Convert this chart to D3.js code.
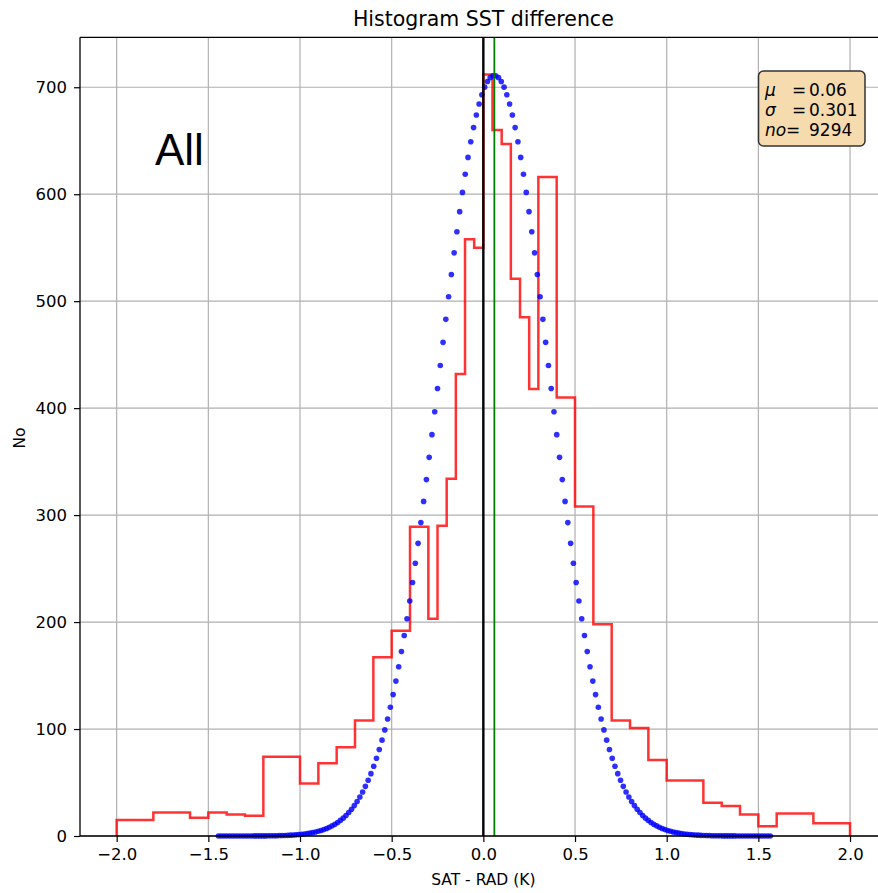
<!DOCTYPE html>
<html>
<head>
<meta charset="utf-8">
<script src="https://cdn.jsdelivr.net/npm/d3@7"></script>
<style>
  html, body { margin: 0; padding: 0; background: #fff; overflow: hidden; }
  svg { display: block; }
  text { font-family: "DejaVu Sans", sans-serif; fill: #000; }
</style>
</head>
<body>
<div id="chart"></div>
<script>
// ---------------- DATA ----------------
const binEdges = [-2.0,-1.8,-1.6,-1.5,-1.4,-1.3,-1.2,-1.0,-0.9,-0.8,-0.7,-0.6,-0.5,-0.4,-0.3,-0.25,-0.2,-0.15,-0.1,-0.05,0,
                  0.05,0.1,0.15,0.2,0.25,0.3,0.4,0.5,0.6,0.7,0.8,0.9,1.0,1.2,1.3,1.4,1.5,1.6,1.8,2.0];
const binCounts = [15,22,17,22,20,19,74,49,68,83,108,167,192,289,203,290,334,432,558,550,
                   712,660,647,521,485,418,616,410,308,198,108,101,71,52,31,28,20,9,21,12];

// fitted normal curve dots: offsets from the mean and heights (symmetric pairs)
const MU = 0.06, SIGMA = 0.301, NO = 9294;
const fitOffsets = [0.0076,0.0227,0.0378,0.0529,0.0681,0.0832,0.0983,0.1134,0.1286,0.1437,
  0.1588,0.1740,0.1891,0.2042,0.2193,0.2345,0.2496,0.2647,0.2798,0.2950,
  0.3101,0.3252,0.3403,0.3555,0.3706,0.3857,0.4008,0.4160,0.4311,0.4462,
  0.4613,0.4765,0.4916,0.5067,0.5218,0.5370,0.5521,0.5672,0.5824,0.5975,
  0.6126,0.6277,0.6429,0.6580,0.6731,0.6882,0.7034,0.7185,0.7336,0.7487,
  0.7639,0.7790,0.7941,0.8092,0.8244,0.8395,0.8546,0.8697,0.8849,0.9000,
  0.9151,0.9302,0.9454,0.9605,0.9756,0.9907,1.0059,1.0210,1.0361,1.0512,
  1.0664,1.0815,1.0966,1.1118,1.1269,1.1420,1.1571,1.1723,1.1874,1.2025,
  1.2176,1.2328,1.2479,1.2630,1.2781,1.2933,1.3084,1.3235,1.3386,1.3538,
  1.3689,1.3840,1.3991,1.4143,1.4294,1.4445,1.4596,1.4748,1.4899,1.5050];
const fitHeights = [710.8,709.0,705.4,700.1,693.0,684.4,674.1,662.3,649.0,634.4,
  618.6,601.7,583.7,564.9,545.2,525.0,504.2,483.0,461.5,439.9,
  418.3,396.6,375.2,354.0,333.2,312.8,293.0,273.6,255.0,237.0,
  219.7,203.1,187.4,172.4,158.2,144.8,132.2,120.4,109.4,99.2,
  89.6,80.8,72.7,65.2,58.3,52.1,46.4,41.2,36.5,32.2,
  28.4,25.0,21.9,19.2,16.7,14.6,12.6,10.9,9.5,8.1,
  7.0,6.0,5.1,4.4,3.7,3.2,2.7,2.3,1.9,1.6,
  1.3,1.1,0.9,0.8,0.6,0.5,0.4,0.4,0.3,0.2,
  0.2,0.2,0.1,0.1,0.1,0.1,0.1,0,0,0,
  0,0,0,0,0,0,0,0,0,0];

const xTicks = [-2.0,-1.5,-1.0,-0.5,0.0,0.5,1.0,1.5,2.0];
const yTicks = [0,100,200,300,400,500,600,700];
const xDomain = [-2.2, 2.2];
const yDomain = [0, 746.7];
const title = "Histogram SST difference";
const xLabel = "SAT - RAD (K)";
const yLabel = "No";
const panelLabel = "All";

// ---------------- LAYOUT ----------------
const W = 878, H = 893;
const m = {left: 80, top: 37.3, bottom: 836};
const plotRight = 886.7;

const svg = d3.select("#chart").append("svg").attr("width", W).attr("height", H);

const x = d3.scaleLinear().domain(xDomain).range([m.left, plotRight]);
const y = d3.scaleLinear().domain(yDomain).range([m.bottom, m.top]);

// grid
const grid = svg.append("g");
grid.selectAll("line.gx").data(xTicks).join("line")
  .attr("x1", d => x(d)).attr("x2", d => x(d))
  .attr("y1", m.top).attr("y2", m.bottom)
  .attr("stroke", "#b0b0b0").attr("stroke-width", 1.2);
grid.selectAll("line.gy").data(yTicks).join("line")
  .attr("x1", m.left).attr("x2", W)
  .attr("y1", d => y(d)).attr("y2", d => y(d))
  .attr("stroke", "#b0b0b0").attr("stroke-width", 1.2);

// histogram step
const stepPts = [[binEdges[0], 0]];
binCounts.forEach((c, i) => { stepPts.push([binEdges[i], c]); stepPts.push([binEdges[i+1], c]); });
stepPts.push([binEdges[binEdges.length-1], 0]);
svg.append("path")
  .attr("d", d3.line().x(d => x(d[0])).y(d => y(d[1]))(stepPts))
  .attr("fill", "none").attr("stroke", "#ff0000").attr("stroke-opacity", 0.8)
  .attr("stroke-width", 2.5).attr("stroke-linejoin", "miter");

// normal fit dots
const dots = [];
fitOffsets.forEach((o, i) => { dots.push([MU - o, fitHeights[i]]); dots.push([MU + o, fitHeights[i]]); });
svg.append("g").selectAll("circle").data(dots).join("circle")
  .attr("cx", d => x(d[0])).attr("cy", d => y(d[1])).attr("r", 2.8)
  .attr("fill", "#0000ff").attr("fill-opacity", 0.82);

// vertical lines
svg.append("line").attr("x1", x(0)).attr("x2", x(0)).attr("y1", m.top).attr("y2", m.bottom)
  .attr("stroke", "#000").attr("stroke-width", 2.4);
svg.append("line").attr("x1", x(MU)).attr("x2", x(MU)).attr("y1", m.top).attr("y2", m.bottom)
  .attr("stroke", "#008000").attr("stroke-width", 1.8);

// spines (right spine lies outside the visible area)
svg.append("line").attr("x1", m.left).attr("x2", m.left).attr("y1", m.top).attr("y2", m.bottom)
  .attr("stroke", "#000").attr("stroke-width", 1.3);
svg.append("line").attr("x1", m.left).attr("x2", W).attr("y1", m.top).attr("y2", m.top)
  .attr("stroke", "#000").attr("stroke-width", 1.3);
svg.append("line").attr("x1", m.left).attr("x2", W).attr("y1", m.bottom).attr("y2", m.bottom)
  .attr("stroke", "#000").attr("stroke-width", 1.3);

// axes
const fmt = d => (d < 0 ? "\u2212" : "") + Math.abs(d).toFixed(1);
const xAxis = d3.axisBottom(x).tickValues(xTicks).tickFormat(fmt).tickSize(6).tickPadding(6);
const gx = svg.append("g").attr("transform", `translate(0,${m.bottom})`).call(xAxis);
gx.select(".domain").remove();
gx.selectAll("line").attr("stroke-width", 1.2);
gx.selectAll("text").attr("font-size", "16.5px").attr("font-family", "DejaVu Sans").attr("fill", "#000").attr("dy", "0.72em");

const yAxis = d3.axisLeft(y).tickValues(yTicks).tickFormat(d3.format("d")).tickSize(6).tickPadding(7);
const gy = svg.append("g").attr("transform", `translate(${m.left},0)`).call(yAxis);
gy.select(".domain").remove();
gy.selectAll("line").attr("stroke-width", 1.2);
gy.selectAll("text").attr("font-size", "16.5px").attr("font-family", "DejaVu Sans").attr("fill", "#000");

// title and labels
svg.append("text").attr("x", (m.left + plotRight) / 2).attr("y", 26)
  .attr("text-anchor", "middle").attr("font-size", "20.5px").text(title);
svg.append("text").attr("x", (m.left + plotRight) / 2).attr("y", 885)
  .attr("text-anchor", "middle").attr("font-size", "15.5px").text(xLabel);
svg.append("text").attr("transform", "translate(25,438) rotate(-90)")
  .attr("text-anchor", "middle").attr("font-size", "15.5px").text(yLabel);

// panel label
svg.append("text").attr("x", 155).attr("y", 165)
  .style("font-family", "'Liberation Sans', Arial, sans-serif").attr("font-size", "44px")
  .text(panelLabel);

// stats box
const box = svg.append("g");
box.append("rect").attr("x", 758.5).attr("y", 71).attr("width", 106.5).attr("height", 75)
  .attr("rx", 5).attr("fill", "#f5dbad").attr("stroke", "#333").attr("stroke-width", 1.5);
const statRows = [
  {sym: "\u03bc", eqX: 792, val: MU.toFixed(2)},
  {sym: "\u03c3", eqX: 792, val: SIGMA.toFixed(3)},
  {sym: "no", eqX: 786, val: String(NO)}
];
statRows.forEach((r, i) => {
  const by = 95.5 + i * 20;
  box.append("text").attr("x", 765).attr("y", by).attr("font-size", "17px")
    .attr("font-style", "italic").text(r.sym);
  box.append("text").attr("x", r.eqX).attr("y", by).attr("font-size", "17px").text("=");
  box.append("text").attr("x", 809).attr("y", by).attr("font-size", "17px").text(r.val);
});
</script>
</body>
</html>
